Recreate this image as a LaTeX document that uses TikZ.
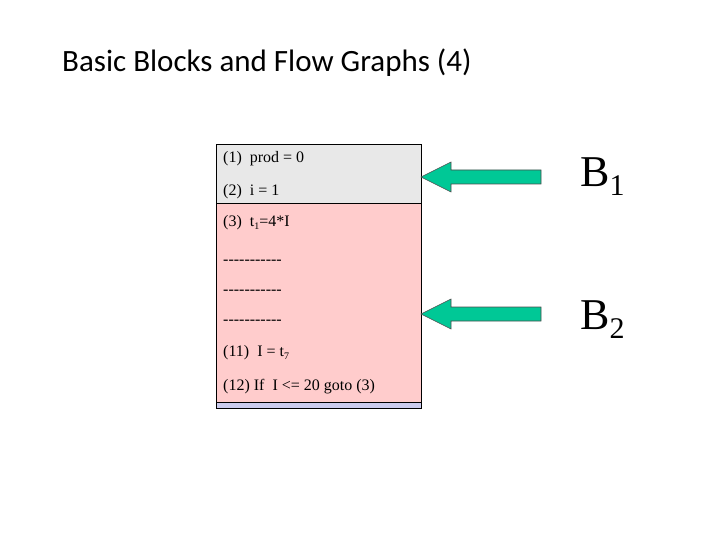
\documentclass[tikz,border=0pt]{standalone}
\usepackage{fontspec}
\setmainfont{Liberation Serif}
\newfontfamily\titlefont{Carlito}
\definecolor{cgray}{RGB}{232,232,232}
\definecolor{cpink}{RGB}{255,204,204}
\definecolor{cblue}{RGB}{204,204,238}
\definecolor{cgreen}{RGB}{0,200,150}
\newcommand{\dashrow}{\foreach \k in {1,...,11}{-\kern0pt}}
\newcommand{\lsub}[1]{\raisebox{-0.35ex}{\fontsize{10}{12}\selectfont #1}}
\newcommand{\bsub}[1]{\raisebox{-0.45ex}{\fontsize{30}{32}\selectfont #1}}
\begin{document}
\begin{tikzpicture}[x=1pt,y=-1pt,
  ln/.style={anchor=west,font=\fontsize{16}{18}\selectfont,inner sep=0pt},
  blab/.style={anchor=west,font=\fontsize{44}{48}\selectfont,inner sep=0pt},
  garrow/.style={fill=cgreen,draw=black!70,line width=0.6pt}]
\useasboundingbox (0,0) rectangle (720,540);
\node[anchor=west,font=\titlefont\fontsize{31}{34}\selectfont,inner sep=0pt] (title) at (62,63) {Basic Blocks and Flow Graphs (4)};
\fill[cgray] (216,144) rectangle (421,203);
\fill[cpink] (216,203) rectangle (421,402);
\fill[cblue] (216,402) rectangle (421,408);
\draw[line width=0.8pt] (216,144) rectangle (421,408);
\draw[line width=0.8pt] (216,203) -- (421,203);
\draw[line width=0.8pt] (216,402) -- (421,402);
\node[ln] (l1) at (223,159) {(1)\ \ prod = 0};
\node[ln] (l2) at (223,192) {(2)\ \ i = 1};
\node[ln] (l3) at (223,223) {(3)\ \ t\lsub{1}=4*I};
\node[ln] (l4) at (223,262) {-{}-{}-{}-{}-{}-{}-{}-{}-{}-{}-};
\node[ln] (l5) at (223,292) {-{}-{}-{}-{}-{}-{}-{}-{}-{}-{}-};
\node[ln] (l6) at (223,322) {-{}-{}-{}-{}-{}-{}-{}-{}-{}-{}-};
\node[ln] (l7) at (223,353) {(11)\ \ I = t\lsub{7}};
\node[ln] (l8) at (223,387) {(12) If\ \ I <= 20 goto (3)};
\foreach \yy in {177,314}{
  \draw[garrow] (421,\yy) -- (451,\yy-15) -- (451,\yy-7) -- (541,\yy-7) -- (541,\yy+7) -- (451,\yy+7) -- (451,\yy+15) -- cycle;
}
\node[blab] (b1) at (580,177) {B\bsub{1}};
\node[blab] (b2) at (580,320) {B\bsub{2}};
\end{tikzpicture}
\end{document}
